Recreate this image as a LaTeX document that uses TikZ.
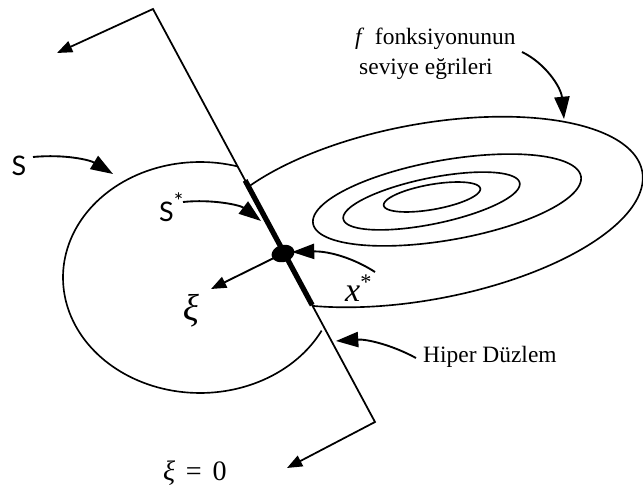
\documentclass[tikz,border=0pt]{standalone}
\usepackage{fontspec}
\setmainfont{Liberation Serif}
\newfontfamily\lblsans{Lato}
\usetikzlibrary{arrows.meta,calc}
\begin{document}
\begin{tikzpicture}[x=0.03cm,y=-0.03cm,
  thinline/.style={line width=1.4pt},
  curvearrow/.style={line width=1.6pt,-{Triangle[length=19pt,width=13pt]}},
  straightarrow/.style={line width=1.5pt,{Triangle[length=13pt,width=10pt]}-{Triangle[length=13pt,width=10pt]}},
  xiarrow/.style={line width=1.6pt,-{Triangle[length=13pt,width=10pt]}},
  lbl/.style={inner sep=0pt,font=\fontsize{20}{24}\selectfont},
  sanslbl/.style={inner sep=0pt,font=\lblsans\fontsize{23}{26}\selectfont},
  mathlbl/.style={inner sep=0pt,font=\fontsize{29}{32}\selectfont},
  ]
\useasboundingbox (0,0) rectangle (643,489);

% hyperplane with end arrows
\coordinate (T) at (153,9);
\coordinate (B) at (375,422);
\coordinate (TA) at (57,53);
\coordinate (BA) at (287,468);
\draw[straightarrow,line join=miter] (TA) -- (T) -- (B) -- (BA);

% set S (open arc)
\draw[thinline] plot[domain=74:332.6,samples=120,variable=\t]
  ({200+137*cos(\t)},{277.5-115.5*sin(\t)});

% outer level curve, only on the right of the hyperplane
\begin{scope}
  \clip ($(T)!-1!(B)$) -- ($(T)!2!(B)$) -- (1500,835) -- (1500,-404) -- cycle;
  \draw[thinline] plot[domain=0:360,samples=200,variable=\t]
    ({424.4+218.4*cos(\t)},{212-34.1*cos(\t)+89*sin(\t)}) -- cycle;
\end{scope}

% inner level curves
\draw[thinline] plot[domain=0:360,samples=150,variable=\t]
  ({447+136*cos(\t)*cos(10)-40*sin(\t)*sin(10)},{200-(136*cos(\t)*sin(10)+40*sin(\t)*cos(10))}) -- cycle;
\draw[thinline] plot[domain=0:360,samples=150,variable=\t]
  ({431.5+90*cos(\t)*cos(11.6)-23*sin(\t)*sin(11.6)},{201-(90*cos(\t)*sin(11.6)+23*sin(\t)*cos(11.6))}) -- cycle;
\draw[thinline] plot[domain=0:360,samples=120,variable=\t]
  ({432+49*cos(\t)*cos(10)-12.5*sin(\t)*sin(10)},{197-(49*cos(\t)*sin(10)+12.5*sin(\t)*cos(10))}) -- cycle;

% thick segment S*
\draw[line width=4.5pt] ($(T)!0.415!(B)$) -- ($(T)!0.717!(B)$);

% optimal point
\coordinate (X) at (283,253.5);
\fill plot[domain=0:360,samples=60,variable=\t]
  ({283+11.5*cos(\t)*cos(15)-8.5*sin(\t)*sin(15)},{253.5-(11.5*cos(\t)*sin(15)+8.5*sin(\t)*cos(15))}) -- cycle;

% xi arrow
\coordinate (XiTip) at (211,289);
\draw[xiarrow] (X) -- (XiTip);
\node[inner sep=0pt,font=\fontsize{32}{34}\selectfont] (xi) at (191,311) {\textit{ξ}};

% labels
\node[sanslbl,anchor=center] (S) at (19,166) {S};
\coordinate (Sfrom) at (33,157);
\coordinate (Sto) at (113,174);
\draw[curvearrow] (Sfrom) .. controls (65,154) and (90,160) .. (Sto);

\node[sanslbl,anchor=base west] (Sstar) at (159,222) {S\raisebox{0.45em}{\fontsize{19}{19}\selectfont *}};
\coordinate (SSfrom) at (183,202);
\coordinate (SSto) at (261,221);
\draw[curvearrow] (SSfrom) .. controls (212,199) and (240,205) .. (SSto);

\node[mathlbl,anchor=base west] (xstar) at (345,302) {\textit{x}\raisebox{0.38em}{\fontsize{19}{19}\selectfont *}};
\coordinate (Xfrom) at (375,272);
\coordinate (Xto) at (292,252);
\draw[curvearrow] (Xfrom) .. controls (355,259) and (330,251) .. (Xto);

\node[lbl,anchor=base west] (f1) at (355,45) {\textit{f}\hspace{0.45em}fonksiyonunun};
\node[lbl,anchor=base west] (f2) at (359,75) {seviye eğrileri};
\coordinate (Ffrom) at (522,52);
\coordinate (Fto) at (564,119);
\draw[curvearrow] (Ffrom) .. controls (545,63) and (561,87) .. (Fto);

\node[lbl,anchor=base west] (hyp) at (423,363) {Hiper Düzlem};
\coordinate (Hfrom) at (416,358);
\coordinate (Hto) at (336,341);
\draw[curvearrow] (Hfrom) .. controls (392,345) and (367,339) .. (Hto);

\node[inner sep=0pt,font=\fontsize{24}{26}\selectfont,anchor=base west] (xi0) at (163,480) {\textit{ξ}\hspace{0.38em}=\hspace{0.38em}0};
\end{tikzpicture}
\end{document}
